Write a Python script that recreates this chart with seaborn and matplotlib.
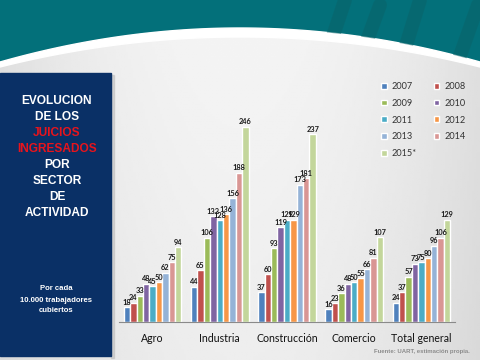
import matplotlib
matplotlib.use("Agg")
import matplotlib.pyplot as plt
from matplotlib.patches import Rectangle
import seaborn as sns
import pandas as pd
import numpy as np

# data
sectores = ['Agro', 'Industria', 'Construcción', 'Comercio', 'Total general']
anios = ['2007', '2008', '2009', '2010', '2011', '2012', '2013', '2014', '2015*']
agro = [18, 24, 33, 48, 45, 50, 62, 75, 94]
industria = [44, 65, 106, 133, 128, 136, 156, 188, 246]
construccion = [37, 60, 93, 119, 129, 129, 173, 181, 237]
comercio = [16, 23, 36, 48, 50, 55, 66, 81, 107]
total = [24, 37, 57, 73, 75, 80, 96, 106, 129]

colores = ['#4F81BD', '#C0504D', '#9BBB59', '#8064A2', '#4BACC6',
           '#F79646', '#95B3D7', '#D99694', '#C3D69B']

rows = []
for sec, vals in zip(sectores, [agro, industria, construccion, comercio, total]):
    for a, v in zip(anios, vals):
        rows.append({'sector': sec, 'anio': a, 'valor': v})
df = pd.DataFrame(rows)

sns.set_style("white")
plt.rcParams['font.family'] = ['Lato', 'DejaVu Sans']

W, H = 480, 360
fig = plt.figure(figsize=(4.8, 3.6), dpi=100)

# background: gray gradient, teal band with white curve
bg = fig.add_axes([0, 0, 1, 1], zorder=0)
bg.set_xlim(0, W)
bg.set_ylim(H, 0)
bg.axis('off')
xx, yy = np.meshgrid(np.linspace(-1, 1, 200), np.linspace(0, 1, 150))
grad = 0.96 - 0.08 * xx ** 2 - 0.03 * yy
bg.imshow(grad, cmap='gray', vmin=0, vmax=1, extent=[0, W, H, 0], aspect='auto')
px = np.linspace(0, W, 300)
curve = 28 + 34 / 57600 * (px - 240) ** 2
teal = bg.fill_between(px, 0, curve, color='#03707A')
# faint logo strokes inside the teal band
for (x0, y0, x1, y1) in [(325, 60, 345, 0), (360, 60, 380, 5), (400, 65, 420, 0), (455, 70, 478, 5)]:
    ln, = bg.plot([x0, x1], [y0, y1], color='#0A6369', lw=10, alpha=0.55, solid_capstyle='round')
    ln.set_clip_path(teal.get_paths()[0], bg.transData)
bg.fill_between(px, curve + 9 - 4 * ((px - 240) / 240) ** 2, curve, color='white')

# left panel
bg.add_patch(Rectangle((0, 73), 111, 283, color='#0A3066', zorder=3))
bg.add_patch(Rectangle((111, 75), 3, 283, color='#B8B8B8', alpha=0.5, zorder=2))
titulo = [('EVOLUCION', 'white'), ('DE LOS', 'white'), ('JUICIOS', '#E8141C'),
          ('INGRESADOS', '#E8141C'), ('POR', 'white'), ('SECTOR', 'white'),
          ('DE', 'white'), ('ACTIVIDAD', 'white')]
for i, (t, c) in enumerate(titulo):
    bg.text(57, 101 + i * 16, t, color=c, ha='center', va='center', fontsize=8.6,
            fontweight='bold', family='Liberation Sans', zorder=4)
for i, t in enumerate(['Por cada', '10.000 trabajadores', 'cubiertos']):
    bg.text(56, 289 + i * 11, t, color='white', ha='center', va='center', fontsize=5.6,
            fontweight='bold', family='Liberation Sans', zorder=4)

bg.text(470, 351, 'Fuente: UART, estimación propia.', color='#8C8C8C', ha='right',
        va='center', fontsize=4.3, fontweight='bold', family='Liberation Sans')

# chart
x_left, x_right, y_base, y_top = 119, 455, 321.7, 110
ax = fig.add_axes([x_left / W, (H - y_base) / H, (x_right - x_left) / W, (y_base - y_top) / H],
                  zorder=1)
ax.set_facecolor('none')
sns.barplot(data=df, x='sector', y='valor', hue='anio', hue_order=anios,
            order=sectores, palette=colores, width=0.86, saturation=1, ax=ax)
for cont in ax.containers:
    ax.bar_label(cont, fontsize=5.3, fontweight='bold', color='#1A1A1A', padding=1)

ax.set_ylim(0, (y_base - y_top) / 0.792)
ax.set_xlim(-0.5, 4.5)
ax.set_xlabel('')
ax.set_ylabel('')
ax.set_yticks([])
for s in ['top', 'right', 'left']:
    ax.spines[s].set_visible(False)
ax.spines['bottom'].set_color('#8A8A8A')
ax.spines['bottom'].set_linewidth(0.8)
ax.set_xticks(np.arange(-0.5, 5, 1), minor=True)
ax.set_xticks(range(5))
ax.set_xticklabels(sectores, fontsize=7.6, color='#111111')
ax.tick_params(axis='x', which='major', length=0, pad=8)
ax.tick_params(axis='x', which='minor', length=4, color='#8A8A8A', width=0.8, direction='out')

# legend filled row by row (2007 2008 / 2009 2010 / ...)
handles, labels = ax.get_legend_handles_labels()
orden = [0, 2, 4, 6, 8, 1, 3, 5, 7]
ax.legend([handles[i] for i in orden], [labels[i] for i in orden], ncol=2, frameon=False,
          fontsize=6.6, labelcolor='#333333',
          loc='upper left', bbox_to_anchor=(381 / W, 1 - 82 / H),
          bbox_transform=fig.transFigure, borderpad=0, borderaxespad=0,
          handlelength=0.6, handleheight=0.6, handletextpad=0.6,
          labelspacing=0.85, columnspacing=1.8)

fig.savefig('out.png', dpi=100)
